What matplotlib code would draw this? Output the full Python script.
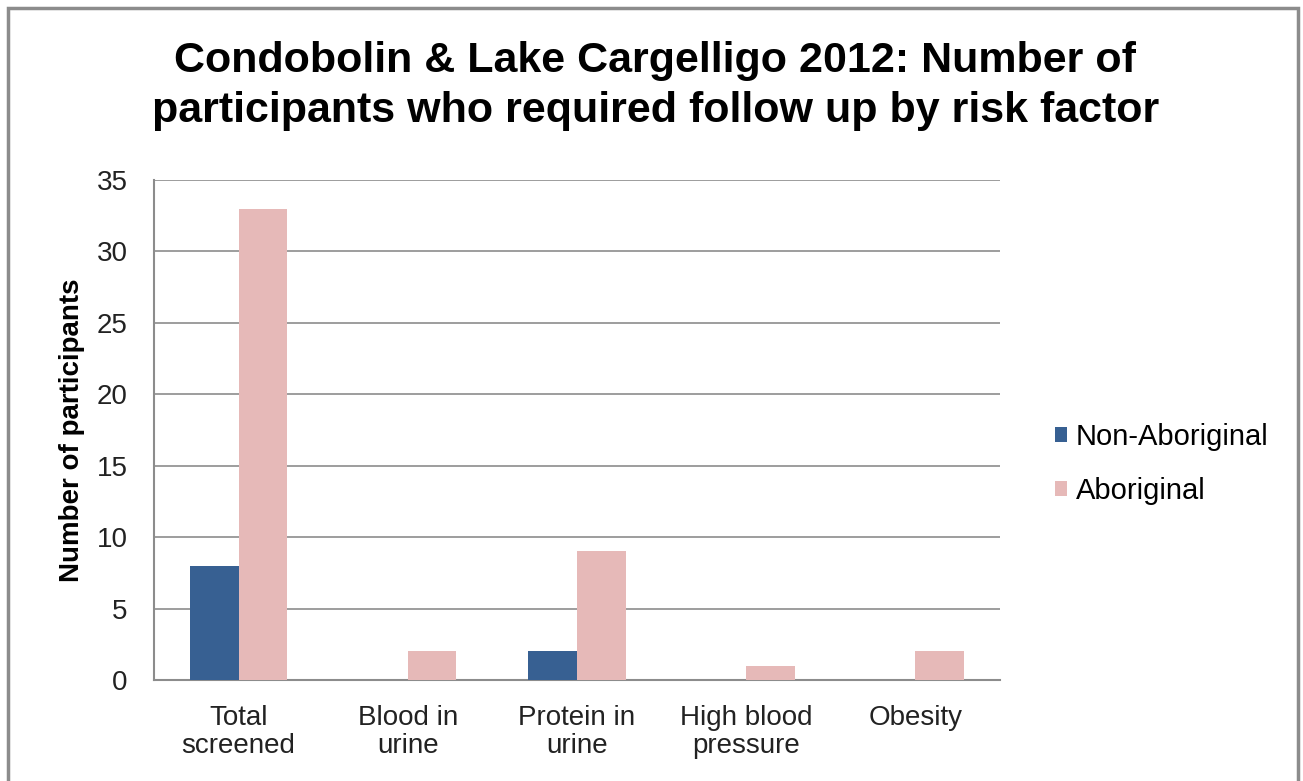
import matplotlib.pyplot as plt
import numpy as np
from matplotlib.patches import Rectangle

## DATA ##
categories = ["Total\nscreened", "Blood in\nurine", "Protein in\nurine", "High blood\npressure", "Obesity"]
non_aboriginal = [8, 0, 2, 0, 0]
aboriginal = [33, 2, 9, 1, 2]
series_names = ["Non-Aboriginal", "Aboriginal"]
colors = ["#376092", "#E6B9B8"]

plt.rcParams["font.family"] = ["Liberation Sans", "DejaVu Sans"]

fig = plt.figure(figsize=(13.03, 7.81), dpi=100)
ax = fig.add_axes([154 / 1303, 1 - 680 / 781, (1000 - 154) / 1303, 500 / 781])

x = np.arange(len(categories))
w = 0.287
ax.bar(x - w / 2, non_aboriginal, w, color=colors[0], label=series_names[0], zorder=3)
ax.bar(x + w / 2, aboriginal, w, color=colors[1], label=series_names[1], zorder=3)

ax.set_xlim(-0.5, len(categories) - 0.5)
ax.set_ylim(0, 35)
ax.set_yticks(range(0, 36, 5))
ax.set_xticks(x)
ax.set_xticklabels(categories, fontsize=20, color="#222222", linespacing=1.12)
ax.tick_params(axis="y", labelsize=20, labelcolor="#222222", length=0, pad=19)
ax.tick_params(axis="x", length=0, pad=18)
ax.yaxis.grid(True, color="#8c8c8c", linewidth=1.2, zorder=0)

for side in ["top", "right"]:
    ax.spines[side].set_visible(False)
for side in ["left", "bottom"]:
    ax.spines[side].set_color("#8c8c8c")
    ax.spines[side].set_linewidth(1.5)

ax.set_ylabel("Number of participants", fontsize=20, fontweight="bold", labelpad=8)

fig.text(0.503, 1 - 86 / 781, "Condobolin & Lake Cargelligo 2012: Number of\nparticipants who required follow up by risk factor",
         ha="center", va="center", fontsize=31, fontweight="bold", linespacing=1.3)

leg = fig.legend(loc="center left", bbox_to_anchor=(1029 / 1303, 1 - 464 / 781), frameon=False,
                 fontsize=21, handlelength=0.4, handleheight=0.4, handletextpad=0.3, labelspacing=0.9)

# outer chart border
fig.patches.append(Rectangle((8 / 1303, -0.05), 1290 / 1303, 1.05 - 8 / 781, transform=fig.transFigure,
                             fill=False, edgecolor="#8c8c8c", linewidth=2.5, zorder=10))

fig.savefig("out.png", dpi=100)
